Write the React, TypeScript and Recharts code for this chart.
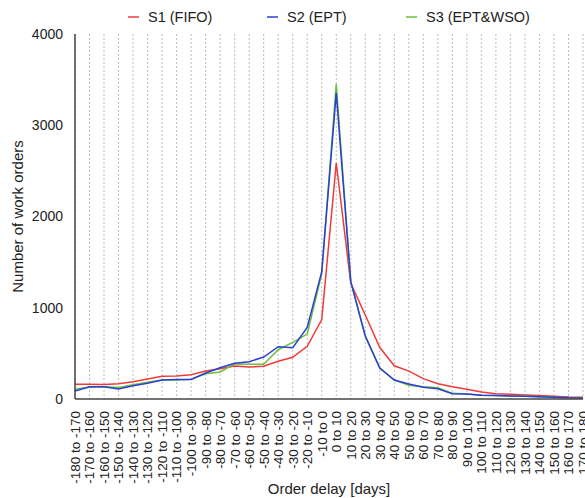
import React from 'react';
import { LineChart, Line, XAxis, YAxis, CartesianGrid, Legend } from 'recharts';

const categories = [
  '-180 to -170', '-170 to -160', '-160 to -150', '-150 to -140', '-140 to -130', '-130 to -120',
  '-120 to -110', '-110 to -100', '-100 to -90', '-90 to -80', '-80 to -70', '-70 to -60',
  '-60 to -50', '-50 to -40', '-40 to -30', '-30 to -20', '-20 to -10', '-10 to 0',
  '0 to 10', '10 to 20', '20 to 30', '30 to 40', '40 to 50', '50 to 60',
  '60 to 70', '70 to 80', '80 to 90', '90 to 100', '100 to 110', '110 to 120',
  '120 to 130', '130 to 140', '140 to 150', '150 to 160', '160 to 170', '170 to 180',
];

const s1Fifo = [
  161, 161, 158, 168, 190, 219, 249, 252, 266, 307, 332, 362, 351, 358, 413, 457, 577, 870,
  2586, 1268, 921, 564, 364, 305, 223, 168, 135, 106, 77, 58, 51, 44, 38, 30, 22, 20,
];

const s2Ept = [
  88, 135, 135, 110, 146, 172, 208, 215, 215, 285, 343, 391, 409, 460, 573, 562, 784, 1395,
  3355, 1286, 690, 340, 208, 164, 128, 113, 58, 55, 40, 37, 33, 29, 24, 18, 13, 12,
];

const s3EptWso = [
  106, 130, 135, 125, 157, 183, 208, 208, 215, 277, 296, 384, 380, 380, 540, 621, 712, 1375,
  3452, 1286, 686, 336, 208, 150, 135, 124, 62, 55, 40, 37, 33, 29, 24, 18, 13, 12,
];

const yTicks = [0, 1000, 2000, 3000, 4000];

const data = categories.map((c, i) => ({
  cat: c,
  s1: s1Fifo[i],
  s2: s2Ept[i],
  s3: s3EptWso[i],
}));

const RED = '#f03a3a';
const BLUE = '#2a3fd6';
const GREEN = '#6cbf3a';
const FONT = 'Liberation Sans, Arial, Helvetica, sans-serif';

const legendItems = [
  { label: 'S1 (FIFO)', color: RED },
  { label: 'S2 (EPT)', color: BLUE },
  { label: 'S3 (EPT&WSO)', color: GREEN },
];

const LegendContent = () => (
  <div style={{ display: 'flex', paddingLeft: 128, height: 26, fontFamily: FONT, fontSize: 14.5, color: '#222' }}>
    {legendItems.map((it) => (
      <div key={it.label} style={{ width: 139, display: 'flex', alignItems: 'center', height: 18 }}>
        <svg width={11} height={4} style={{ marginRight: 9 }}>
          <line x1={0} y1={2} x2={11} y2={2} stroke={it.color} strokeWidth={1.5} />
        </svg>
        <span style={{ whiteSpace: 'nowrap' }}>{it.label}</span>
      </div>
    ))}
  </div>
);

const XTick = (props: any) => {
  const { x, y, payload } = props;
  return (
    <g transform={`translate(${x},${y})`}>
      <text
        transform="rotate(-90)"
        x={-4}
        y={0}
        dy="0.36em"
        textAnchor="end"
        fontFamily={FONT}
        fontSize={13.5}
        fill="#222"
      >
        {payload.value}
      </text>
    </g>
  );
};

const YLabel = (props: any) => {
  const { viewBox } = props;
  const cx = viewBox.x + 17;
  const cy = viewBox.y + viewBox.height / 2;
  return (
    <text
      x={cx}
      y={cy}
      transform={`rotate(-90, ${cx}, ${cy})`}
      textAnchor="middle"
      dominantBaseline="central"
      fontFamily={FONT}
      fontSize={15}
      fill="#222"
    >
      Number of work orders
    </text>
  );
};

const XLabel = (props: any) => {
  const { viewBox } = props;
  return (
    <text
      x={viewBox.x + viewBox.width / 2}
      y={viewBox.y + 89}
      textAnchor="middle"
      dominantBaseline="central"
      fontFamily={FONT}
      fontSize={15}
      fill="#222"
    >
      Order delay [days]
    </text>
  );
};

export default function App() {
  return (
    <div style={{ position: 'absolute', left: 0, top: 0, background: '#fff' }}>
      <LineChart width={585} height={498} data={data} margin={{ top: 8, right: 2, left: 0, bottom: 0 }}>
        <Legend verticalAlign="top" align="left" height={26} content={<LegendContent />} />
        <CartesianGrid horizontal={false} stroke="#bbbbbb" strokeDasharray="2 2" />
        <XAxis
          dataKey="cat"
          interval={0}
          height={99}
          tick={<XTick />}
          tickLine={false}
          axisLine={{ stroke: '#444', strokeWidth: 1.5 }}
          label={<XLabel />}
        />
        <XAxis
          xAxisId="top"
          dataKey="cat"
          orientation="top"
          height={0}
          tick={false}
          tickLine={false}
          axisLine={{ stroke: '#444', strokeWidth: 1.5 }}
        />
        <YAxis
          domain={[0, 4000]}
          ticks={yTicks}
          width={75}
          tickLine={false}
          tickSize={6}
          tickMargin={6}
          axisLine={{ stroke: '#444', strokeWidth: 1.5 }}
          tick={{ fontFamily: FONT, fontSize: 14, fill: '#222' }}
          label={<YLabel />}
        />
        <YAxis
          yAxisId="right"
          orientation="right"
          width={0}
          domain={[0, 4000]}
          tick={false}
          tickLine={false}
          axisLine={{ stroke: '#444', strokeWidth: 1.5 }}
        />
        <Line dataKey="s1" stroke={RED} strokeWidth={1.5} dot={false} isAnimationActive={false} />
        <Line dataKey="s3" stroke={GREEN} strokeWidth={1.5} dot={false} isAnimationActive={false} />
        <Line dataKey="s2" stroke={BLUE} strokeWidth={1.5} dot={false} isAnimationActive={false} />
      </LineChart>
    </div>
  );
}
